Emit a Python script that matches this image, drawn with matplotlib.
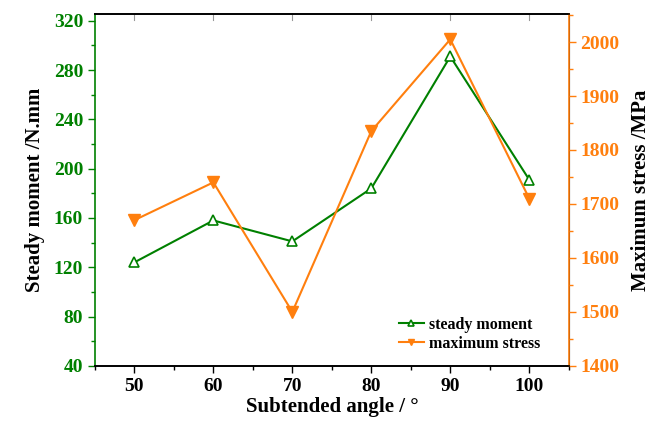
import matplotlib.pyplot as plt
from matplotlib.ticker import MultipleLocator

# subtended angle vs steady moment / maximum stress
angles = [50, 60, 70, 80, 90, 100]
steady_moment = [124, 158, 141, 184, 291, 191]
max_stress = [1670, 1740, 1500, 1835, 2005, 1710]

green = '#008000'
orange = '#ff7f0e'

plt.rcParams['font.family'] = 'Liberation Serif'
plt.rcParams['font.weight'] = 'bold'

fig = plt.figure(figsize=(6.5, 4.23), dpi=100)
ax = fig.add_axes([0.146, 0.135, 0.729, 0.832])
ax2 = ax.twinx()

l1, = ax.plot(angles, steady_moment, color=green, lw=1.5, marker='^', ms=7,
              mfc='white', mec=green, mew=1.2, label='steady moment')
l2, = ax2.plot(angles, max_stress, color=orange, lw=1.5, marker='v', ms=8,
               mfc=orange, mec=orange, label='maximum stress')

ax.set_xlim(45, 105)
ax.set_ylim(40, 325.5)
ax2.set_ylim(1400, 2052)

ax.xaxis.set_major_locator(MultipleLocator(10))
ax.xaxis.set_minor_locator(MultipleLocator(5))
ax.yaxis.set_major_locator(MultipleLocator(40))
ax.yaxis.set_minor_locator(MultipleLocator(20))
ax2.yaxis.set_major_locator(MultipleLocator(100))
ax2.yaxis.set_minor_locator(MultipleLocator(50))

ax.tick_params(axis='x', which='both', direction='out', top=False, labelsize=14, width=1)
ax.tick_params(axis='x', which='major', length=5)
ax.tick_params(axis='x', which='minor', length=3)
ax.tick_params(axis='y', which='both', colors=green, labelcolor=green, labelsize=14, width=1)
ax.tick_params(axis='y', which='major', length=5)
ax.tick_params(axis='y', which='minor', length=3)
ax2.tick_params(axis='y', which='both', colors=orange, labelcolor=orange, labelsize=14, width=1)
ax2.tick_params(axis='y', which='major', length=5)
ax2.tick_params(axis='y', which='minor', length=3)

# small inward ticks along the top edge
for a in angles:
    ax.plot([a, a], [325.5, 321], color='#999999', lw=0.8, clip_on=False, zorder=1)

ax.spines['left'].set_color(green)
ax.spines['left'].set_linewidth(1.2)
ax2.spines['left'].set_visible(False)
ax2.spines['right'].set_color(orange)
ax2.spines['right'].set_linewidth(1.2)
for s in ['top', 'bottom']:
    ax.spines[s].set_linewidth(1.2)
    ax2.spines[s].set_linewidth(1.2)

ax.set_xlabel('Subtended angle / \u00b0', fontsize=15, fontweight='bold', labelpad=2)
ax.set_ylabel('Steady moment /N.mm', fontsize=15, fontweight='bold', labelpad=6)
ax2.set_ylabel('Maximum stress /MPa', fontsize=15, fontweight='bold', labelpad=8)

for lab in ax.get_xticklabels() + ax.get_yticklabels() + ax2.get_yticklabels():
    lab.set_fontweight('bold')

ax2.legend(handles=[l1, l2], loc='lower right', bbox_to_anchor=(0.96, 0.012),
           frameon=False, fontsize=11.5, handlelength=1.6, handletextpad=0.3,
           labelspacing=0.22, borderaxespad=0.2, markerscale=0.6)

fig.savefig('out.png', dpi=100)
